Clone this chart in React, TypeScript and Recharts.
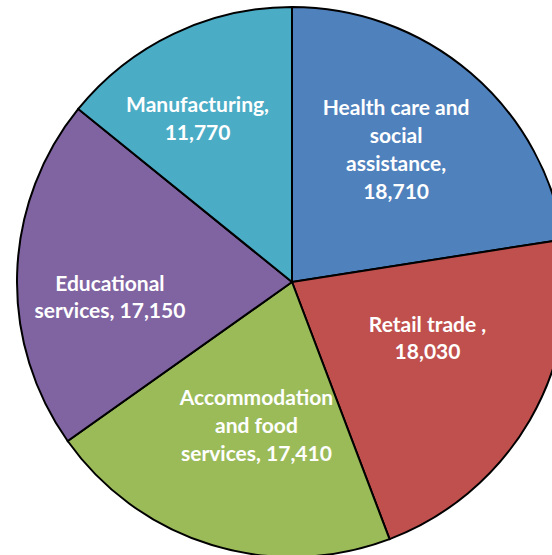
import { PieChart, Pie, Cell } from 'recharts'

const categories = [
  'Health care and social assistance',
  'Retail trade ',
  'Accommodation and food services',
  'Educational services',
  'Manufacturing',
]
const employment = [18710, 18030, 17410, 17150, 11770]
const colors = ['#4F81BD', '#C0504D', '#9BBB59', '#8064A2', '#4BACC6']

// label placement per slice: radius share and clockwise nudge (deg), Excel "best fit" style
const labelRadius = [0.617, 0.531, 0.533, 0.664, 0.691]
const labelTurn = [-2.7, -8.3, -2.9, -6.1, -4.3]

const data = categories.map((name, i) => ({ name, value: employment[i] }))

const RADIAN = Math.PI / 180

// greedy word wrap, ~16 chars a line like the original
function wrap(text: string, max = 16) {
  const lines: string[] = []
  let cur = ''
  for (const w of text.split(' ')) {
    const next = cur ? cur + ' ' + w : w
    if (next.length > max && cur) {
      lines.push(cur)
      cur = w
    } else cur = next
  }
  if (cur) lines.push(cur)
  return lines
}

function renderLabel(props: any) {
  const { cx, cy, midAngle, outerRadius, index } = props
  const r = outerRadius * labelRadius[index]
  const a = (midAngle - labelTurn[index]) * RADIAN
  const x = cx + r * Math.cos(-a)
  const y = cy + r * Math.sin(-a)
  const lines = wrap(`${categories[index]}, ${employment[index].toLocaleString('en-US')}`)
  const lh = 27.7
  const y0 = y - ((lines.length - 1) * lh) / 2
  return (
    <text x={x} y={y0} fill="#fff" fontFamily="Lato" fontWeight="bold" fontSize={21} textAnchor="middle" dominantBaseline="central">
      {lines.map((l, i) => (
        <tspan key={i} x={x} y={y0 + i * lh}>{l}</tspan>
      ))}
    </text>
  )
}

export default function App() {
  return (
    <div style={{ position: 'fixed', left: 0, top: 0, width: 552, height: 555, overflow: 'hidden', background: '#fff' }}>
      <PieChart width={552} height={555} margin={{ top: 0, right: 0, bottom: 0, left: 0 }}>
        <Pie
          data={data}
          dataKey="value"
          cx={292}
          cy={282}
          outerRadius={275}
          startAngle={90}
          endAngle={-270}
          stroke="#000"
          strokeWidth={2}
          label={renderLabel}
          labelLine={false}
          isAnimationActive={false}
        >
          {data.map((d, i) => (
            <Cell key={d.name} fill={colors[i]} />
          ))}
        </Pie>
      </PieChart>
    </div>
  )
}
